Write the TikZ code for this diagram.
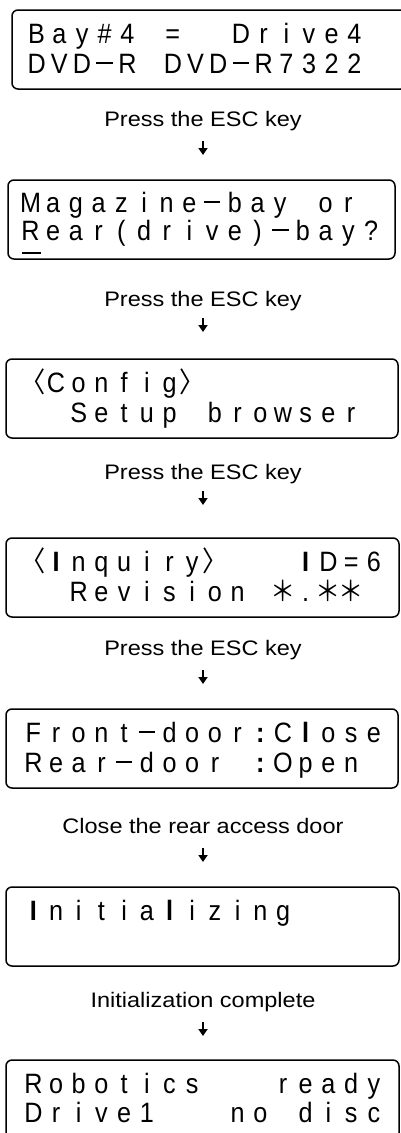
\documentclass[tikz,border=0pt]{standalone}
\usepackage{fontspec}
\usepackage{graphicx}
\setmainfont{Liberation Sans}
\newfontfamily\cjk{Noto Sans CJK JP}
\usetikzlibrary{arrows.meta}

\newlength\lcdpitch \setlength\lcdpitch{22.7pt}
\def\lcdstop{\lcdend}
\def\lcdblank{_}
\def\lcdcells#1{\lcdA#1\lcdend}
\def\lcdA#1{\def\lcdtmp{#1}\ifx\lcdtmp\lcdstop\else\lcdcell{#1}\expandafter\lcdA\fi}
\def\lcdcell#1{\def\lcdtmp{#1}\ifx\lcdtmp\lcdblank\hbox to\lcdpitch{\hfil}\else\hbox to\lcdpitch{\hss\scalebox{0.9}[1]{#1}\hss}\fi}
\def\lcddash{\rule[9pt]{18.5pt}{1.9pt}}
\def\lcdstar{{\cjk ＊}}
\def\lcdlt{{\cjk 〈}}
\def\lcdgt{{\cjk 〉}}
\def\lcdI{{\bfseries I}}
\def\lcdl{{\bfseries l}}
\def\lcdcolon{{\bfseries :}}

\begin{document}
\begin{tikzpicture}[x=1pt,y=-1pt,
  lcdbox/.style={draw, line width=1.5pt, rounded corners=6pt, inner sep=0pt, outer sep=0pt, anchor=north west, minimum height=79pt},
  lcdtext/.style={inner sep=0pt, outer sep=0pt, anchor=base west, font=\fontsize{28}{32}\selectfont},
  lbl/.style={inner sep=0pt, anchor=base, font=\fontsize{21}{25}\selectfont},
  arr/.style={line width=2pt, -{Triangle[length=7pt,width=9pt]}}]
\useasboundingbox (0,0) rectangle (400,1133);

% box 1
\node[lcdbox, minimum width=395pt] (b1) at (12,10) {};
\node[lcdtext] (b1a) at (25.3,43) {\lcdcells{B a y {\#} 4 _ = _ _ D r i v e 4}};
\node[lcdtext] (b1b) at (25.3,73) {\lcdcells{D V D \lcddash R _ D V D \lcddash R 7 3 2 2}};
\node[lbl] (l1) at (203,126) {\scalebox{1.12}[1]{Press the ESC key}};
\coordinate (a1s) at (203,141); \coordinate (a1e) at (203,155);
\draw[arr] (a1s) -- (a1e);

% box 2
\node[lcdbox, minimum width=387pt] (b2) at (8,180) {};
\node[lcdtext] (b2a) at (19.2,212) {\lcdcells{M a g a z i n e \lcddash b a y _ o r}};
\node[lcdtext] (b2b) at (19.2,240) {\lcdcells{R e a r ( d r i v e ) \lcddash b a y ?}};
\coordinate (u1) at (22,253); \coordinate (u2) at (41,253);
\draw[line width=1.8pt] (u1) -- (u2);
\node[lbl] (l2) at (203,306) {\scalebox{1.12}[1]{Press the ESC key}};
\coordinate (a2s) at (203,318); \coordinate (a2e) at (203,332);
\draw[arr] (a2s) -- (a2e);

% box 3
\node[lcdbox, minimum width=392pt] (b3) at (6,359) {};
\node[lcdtext] (b3a) at (22,392) {\lcdcells{\lcdlt C o n f i g \lcdgt}};
\node[lcdtext] (b3b) at (22,422) {\lcdcells{_ _ S e t u p _ b r o w s e r}};
\node[lbl] (l3) at (203,479) {\scalebox{1.12}[1]{Press the ESC key}};
\coordinate (a3s) at (203,491); \coordinate (a3e) at (203,505);
\draw[arr] (a3s) -- (a3e);

% box 4
\node[lcdbox, minimum width=393pt] (b4) at (6,538) {};
\node[lcdtext] (b4a) at (22,571) {\lcdcells{\lcdlt \lcdI n q u i r y \lcdgt _ _ _ \lcdI D = 6}};
\node[lcdtext] (b4b) at (22,601) {\lcdcells{_ _ R e v i s i o n _ \lcdstar . \lcdstar \lcdstar}};
\node[lbl] (l4) at (203,655) {\scalebox{1.12}[1]{Press the ESC key}};
\coordinate (a4s) at (203,670); \coordinate (a4e) at (203,684);
\draw[arr] (a4s) -- (a4e);

% box 5
\node[lcdbox, minimum width=392pt] (b5) at (6,709) {};
\node[lcdtext] (b5a) at (22,742) {\lcdcells{F r o n t \lcddash d o o r \lcdcolon C \lcdl o s e}};
\node[lcdtext] (b5b) at (22,772) {\lcdcells{R e a r \lcddash d o o r _ \lcdcolon O p e n}};
\node[lbl] (l5) at (203,833) {\scalebox{1.12}[1]{Close the rear access door}};
\coordinate (a5s) at (203,848); \coordinate (a5e) at (203,862);
\draw[arr] (a5s) -- (a5e);

% box 6
\node[lcdbox, minimum width=393pt] (b6) at (6,887) {};
\node[lcdtext] (b6a) at (22,920) {\lcdcells{\lcdI n i t i a \lcdl i z i n g}};
\node[lbl] (l6) at (203,1007) {\scalebox{1.12}[1]{Initialization complete}};
\coordinate (a6s) at (203,1022); \coordinate (a6e) at (203,1036);
\draw[arr] (a6s) -- (a6e);

% box 7
\node[lcdbox, minimum width=393pt] (b7) at (6,1060) {};
\node[lcdtext] (b7a) at (22,1093) {\lcdcells{R o b o t i c s _ _ _ r e a d y}};
\node[lcdtext] (b7b) at (22,1122) {\lcdcells{D r i v e 1 _ _ _ n o _ d i s c}};
\end{tikzpicture}
\end{document}
